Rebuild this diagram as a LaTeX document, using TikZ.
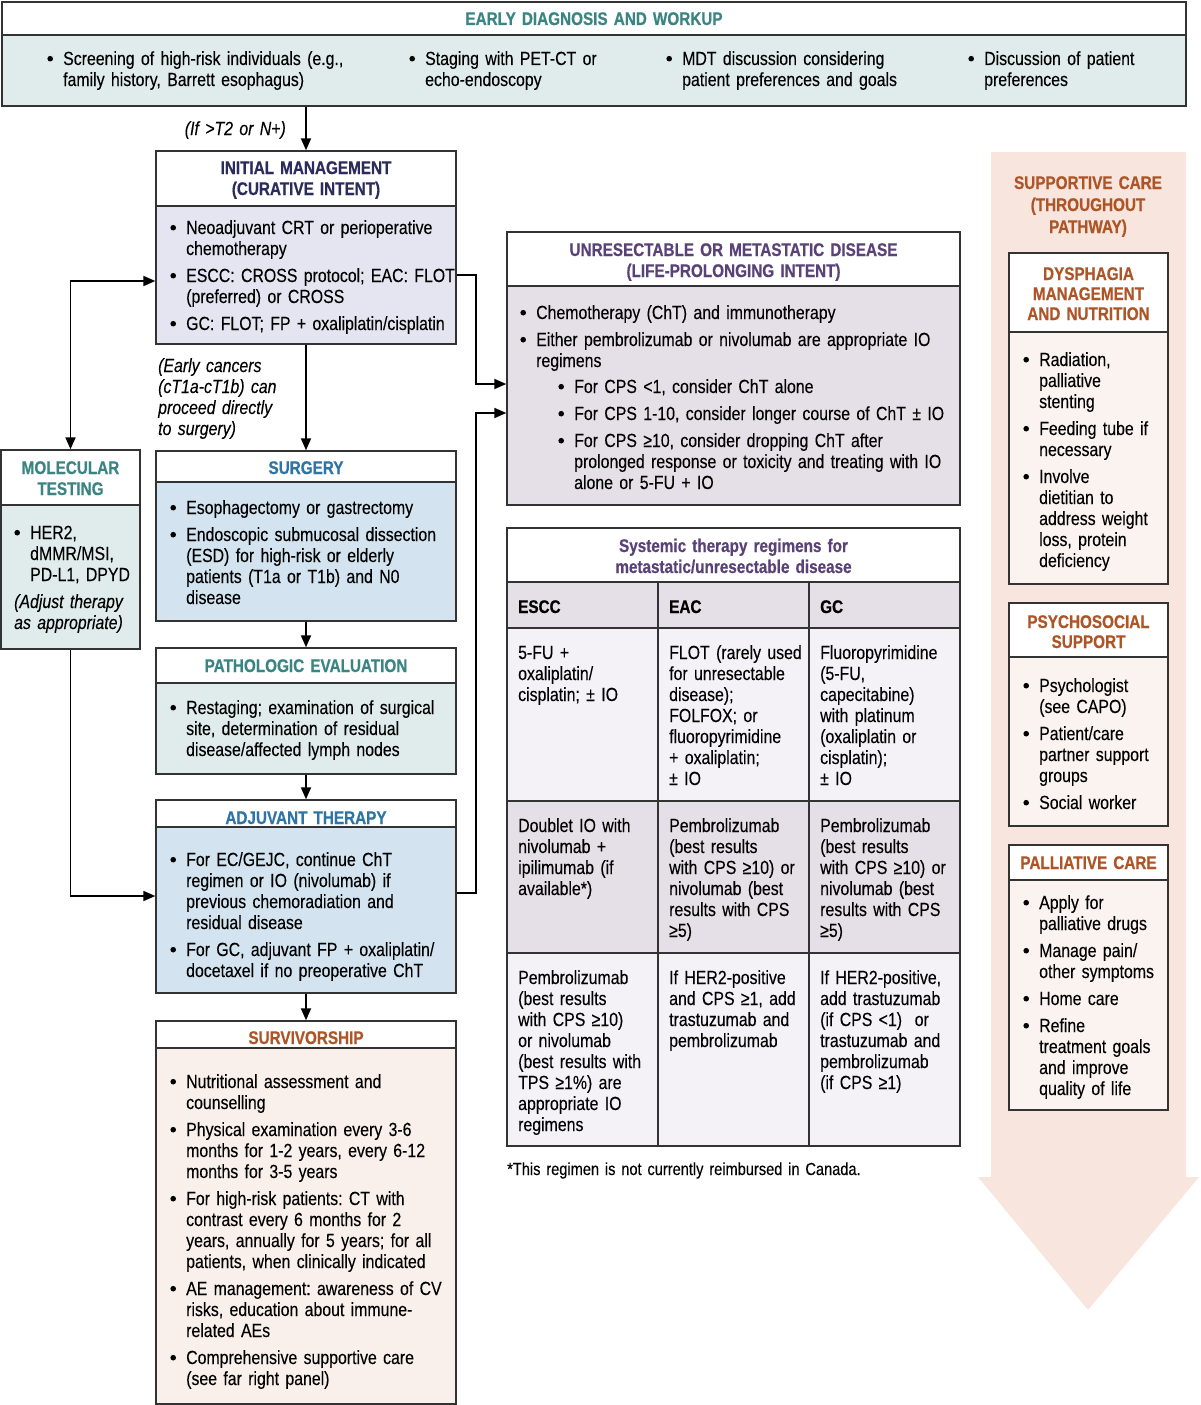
\documentclass[tikz,border=0pt]{standalone}
\usepackage{fontspec}
\setmainfont{Liberation Sans}[FakeStretch=0.835, UprightFeatures={FakeBold=0.2}, ItalicFeatures={FakeBold=0.2}, BoldFeatures={FakeBold=0.6}]
\usetikzlibrary{arrows.meta,fit}
\frenchspacing
\definecolor{cTealT}{HTML}{3A8584}
\definecolor{cTealF}{HTML}{DFECEB}
\definecolor{cNavyT}{HTML}{2B2C5C}
\definecolor{cLavF}{HTML}{E4E5F1}
\definecolor{cBlueT}{HTML}{2E74A5}
\definecolor{cBlueF}{HTML}{D3E4F0}
\definecolor{cPurT}{HTML}{5A4278}
\definecolor{cPurF}{HTML}{E5DFE8}
\definecolor{cRowL}{HTML}{F4F2F6}
\definecolor{cBrT}{HTML}{AE5527}
\definecolor{cSurvF}{HTML}{F9F0EB}
\definecolor{cArrF}{HTML}{F7E5DE}
\definecolor{cSupF}{HTML}{FBF3EF}
\definecolor{cLine}{HTML}{333333}
\newcommand\bodyf{\fontsize{19}{21}\selectfont\frenchspacing\spaceskip=3.5pt plus 1pt minus 0.5pt\relax}
\newcommand\titlef{\fontsize{18.3}{21}\selectfont\bfseries\frenchspacing}
\newcommand\bu{\leavevmode\llap{\tikz[baseline=0pt]{\useasboundingbox (0pt,0pt) rectangle (6pt,1pt);\fill (3pt,6.3pt) circle (2.8pt);}\hspace{10pt}}}
\tikzset{
  txt/.style={inner sep=0pt, anchor=base west, align=left, text width=#1, font=\bodyf},
  txt/.default=300pt,
  ttl/.style={inner sep=0pt, anchor=base, align=center, text width=#1, font=\titlef},
  ttl/.default=440pt,
  conn/.style={line width=1.8pt, draw=black, -{Triangle[length=12pt,width=10pt]}},
  cell/.style={inner sep=0pt, draw=cLine, line width=1.4pt},
}
\newcommand\mkbox[7]{%
  \node[fit={(#2,#3) (#4,#5)}, cell, fill=white] (#1h) {};
  \node[fit={(#2,#5) (#4,#6)}, cell, fill=#7] (#1) {};
}
\begin{document}
\begin{tikzpicture}[x=1pt,y=-1pt]
\useasboundingbox (0,0) rectangle (1200,1405);
% supportive care arrow background
\fill[cArrF] (991,152) -- (1186,152) -- (1186,1177) -- (1199,1177) -- (1088,1310) -- (978,1177) -- (991,1177) -- cycle;

% top box
\mkbox{top}{2}{2}{1186}{35}{106}{cTealF}
\node[ttl, text=cTealT] (ttop) at (594,25) {EARLY DIAGNOSIS AND WORKUP};
\node[txt] (tb1) at (63,65) {\bu Screening of high-risk individuals (e.g.,\\family history, Barrett esophagus)};
\node[txt] (tb2) at (425,65) {\bu Staging with PET-CT or\\echo-endoscopy};
\node[txt] (tb3) at (682,65) {\bu MDT discussion considering\\patient preferences and goals};
\node[txt=200pt] (tb4) at (984,65) {\bu Discussion of patient\\preferences};

% initial management
\mkbox{init}{156}{151}{456}{206}{344}{cLavF}
\node[ttl, text=cNavyT] (tinit) at (306,174) {INITIAL MANAGEMENT\\(CURATIVE INTENT)};
\node[txt] (tinitb) at (186,234) {\bu Neoadjuvant CRT or perioperative\\chemotherapy\\[6pt]\bu ESCC: CROSS protocol; EAC: FLOT\\(preferred) or CROSS\\[6pt]\bu GC: FLOT; FP + oxaliplatin/cisplatin};
\node[txt=150pt, align=right, anchor=base east, font=\bodyf\itshape] (lab1) at (286,135) {(If >T2 or N+)};

% molecular testing
\mkbox{mol}{1}{450}{140}{505}{649}{cTealF}
\node[ttl=135pt, text=cTealT] (tmol) at (70.5,474) {MOLECULAR\\TESTING};
\node[txt=110pt] (tmolb) at (30,539) {\bu HER2,\\dMMR/MSI,\\PD-L1, DPYD};
\node[txt=125pt, font=\bodyf\itshape] (tmoli) at (14,608) {(Adjust therapy\\as appropriate)};

% surgery
\mkbox{surg}{156}{451}{456}{482}{621}{cBlueF}
\node[ttl, text=cBlueT] (tsurg) at (306,474) {SURGERY};
\node[txt] (tsurgb) at (186,514) {\bu Esophagectomy or gastrectomy\\[6pt]\bu Endoscopic submucosal dissection\\(ESD) for high-risk or elderly\\patients (T1a or T1b) and N0\\disease};
\node[txt=140pt, font=\bodyf\itshape] (lab2) at (158,372) {(Early cancers\\(cT1a-cT1b) can\\proceed directly\\to surgery)};

% pathologic evaluation
\mkbox{path}{156}{648}{456}{683}{774}{cTealF}
\node[ttl, text=cTealT] (tpath) at (306,672) {PATHOLOGIC EVALUATION};
\node[txt] (tpathb) at (186,714) {\bu Restaging; examination of surgical\\site, determination of residual\\disease/affected lymph nodes};

% adjuvant therapy
\mkbox{adj}{156}{800}{456}{827}{993}{cBlueF}
\node[ttl, text=cBlueT] (tadj) at (306,824) {ADJUVANT THERAPY};
\node[txt] (tadjb) at (186,866) {\bu For EC/GEJC, continue ChT\\regimen or IO (nivolumab) if\\previous chemoradiation and\\residual disease\\[6pt]\bu For GC, adjuvant FP + oxaliplatin/\\docetaxel if no preoperative ChT};

% survivorship
\mkbox{surv}{156}{1021}{456}{1048}{1404}{cSurvF}
\node[ttl, text=cBrT] (tsurv) at (306,1044) {SURVIVORSHIP};
\node[txt] (tsurvb) at (186,1088) {\bu Nutritional assessment and\\counselling\\[6pt]\bu Physical examination every 3-6\\months for 1-2 years, every 6-12\\months for 3-5 years\\[6pt]\bu For high-risk patients: CT with\\contrast every 6 months for 2\\years, annually for 5 years; for all\\patients, when clinically indicated\\[6pt]\bu AE management: awareness of CV\\risks, education about immune-\\related AEs\\[6pt]\bu Comprehensive supportive care\\(see far right panel)};

% unresectable
\mkbox{unres}{507}{232}{960}{286}{505}{cPurF}
\node[ttl, text=cPurT] (tunres) at (733.5,256) {UNRESECTABLE OR METASTATIC DISEASE\\(LIFE-PROLONGING INTENT)};
\node[txt=420pt] (tunresb) at (536,319) {\bu Chemotherapy (ChT) and immunotherapy\\[6pt]\bu Either pembrolizumab or nivolumab are appropriate IO\\regimens};
\node[txt=384pt] (tunress) at (574,393) {\bu For CPS <1, consider ChT alone\\[6pt]\bu For CPS 1-10, consider longer course of ChT ± IO\\[6pt]\bu For CPS ≥10, consider dropping ChT after\\prolonged response or toxicity and treating with IO\\alone or 5-FU + IO};

% table
\node[fit={(507,528) (960,582)}, cell, fill=white] (tabt) {};
\node[fit={(507,582) (960,628)}, cell, fill=cPurF] (tabh) {};
\node[fit={(507,628) (960,801)}, cell, fill=cRowL] (tabr1) {};
\node[fit={(507,801) (960,953)}, cell, fill=cPurF] (tabr2) {};
\node[fit={(507,953) (960,1146)}, cell, fill=cRowL] (tabr3) {};
\draw[draw=cLine, line width=1.4pt] (658,582) -- (658,1146);
\draw[draw=cLine, line width=1.4pt] (809,582) -- (809,1146);
\node[ttl, text=cPurT, font=\titlef] (ttab) at (733.5,552) {Systemic therapy regimens for\\metastatic/unresectable disease};
\node[txt=140pt, font=\titlef] (h1) at (518,613) {ESCC};
\node[txt=140pt, font=\titlef] (h2) at (669,613) {EAC};
\node[txt=140pt, font=\titlef] (h3) at (820,613) {GC};
\node[txt=140pt] (c11) at (518,659) {5-FU +\\oxaliplatin/\\cisplatin; ± IO};
\node[txt=140pt] (c12) at (669,659) {FLOT (rarely used\\for unresectable\\disease);\\FOLFOX; or\\fluoropyrimidine\\+ oxaliplatin;\\± IO};
\node[txt=140pt] (c13) at (820,659) {Fluoropyrimidine\\(5-FU,\\capecitabine)\\with platinum\\(oxaliplatin or\\cisplatin);\\± IO};
\node[txt=140pt] (c21) at (518,832) {Doublet IO with\\nivolumab +\\ipilimumab (if\\available*)};
\node[txt=140pt] (c22) at (669,832) {Pembrolizumab\\(best results\\with CPS ≥10) or\\nivolumab (best\\results with CPS\\≥5)};
\node[txt=140pt] (c23) at (820,832) {Pembrolizumab\\(best results\\with CPS ≥10) or\\nivolumab (best\\results with CPS\\≥5)};
\node[txt=140pt] (c31) at (518,984) {Pembrolizumab\\(best results\\with CPS ≥10)\\or nivolumab\\(best results with\\TPS ≥1\%) are\\appropriate IO\\regimens};
\node[txt=140pt] (c32) at (669,984) {If HER2-positive\\and CPS ≥1, add\\trastuzumab and\\pembrolizumab};
\node[txt=140pt] (c33) at (820,984) {If HER2-positive,\\add trastuzumab\\(if CPS <1)~ or\\trastuzumab and\\pembrolizumab\\(if CPS ≥1)};
\node[txt=440pt, font=\fontsize{17.5}{21}\selectfont] (foot) at (507,1175) {*This regimen is not currently reimbursed in Canada.};

% supportive care
\node[ttl=180pt, text=cBrT] (tsup) at (1088,189) {SUPPORTIVE CARE\\[1pt](THROUGHOUT\\[1pt]PATHWAY)};
\mkbox{dys}{1009}{253}{1168}{332}{584}{cSupF}
\node[ttl=155pt, text=cBrT] (tdys) at (1088.5,280) {DYSPHAGIA\\[-1pt]MANAGEMENT\\[-1pt]AND NUTRITION};
\node[txt=155pt] (tdysb) at (1039,366) {\bu Radiation,\\palliative\\stenting\\[6pt]\bu Feeding tube if\\necessary\\[6pt]\bu Involve\\dietitian to\\address weight\\loss, protein\\deficiency};
\mkbox{psy}{1009}{603}{1168}{657}{826}{cSupF}
\node[ttl=155pt, text=cBrT] (tpsy) at (1088.5,628) {PSYCHOSOCIAL\\[-1pt]SUPPORT};
\node[txt=155pt] (tpsyb) at (1039,692) {\bu Psychologist\\(see CAPO)\\[6pt]\bu Patient/care\\partner support\\groups\\[6pt]\bu Social worker};
\mkbox{pal}{1009}{845}{1168}{880}{1110}{cSupF}
\node[ttl=155pt, text=cBrT] (tpal) at (1088.5,869) {PALLIATIVE CARE};
\node[txt=155pt] (tpalb) at (1039,909) {\bu Apply for\\palliative drugs\\[6pt]\bu Manage pain/\\other symptoms\\[6pt]\bu Home care\\[6pt]\bu Refine\\treatment goals\\and improve\\quality of life};

% connectors
\draw[conn] (top.south -| inith.north) -- (inith.north);
\draw[conn] (init.south) -- (surgh.north);
\draw[conn] (surg.south) -- (pathh.north);
\draw[conn] (path.south) -- (adjh.north);
\draw[conn] (adj.south) -- (survh.north);
\draw[line width=1.8pt, {Triangle[length=12pt,width=10pt]}-{Triangle[length=12pt,width=10pt]}] ([yshift=-6pt]init.west) -| (molh.north);
\draw[conn] (mol.south) |- ([yshift=14pt]adj.west);
\draw[conn] (init.east) -- ++(19,0) |- ([yshift=11.5pt]unres.west);
\draw[conn] ([yshift=17pt]adj.east) -- ++(19,0) |- ([yshift=-17.5pt]unres.west);
\end{tikzpicture}
\end{document}
